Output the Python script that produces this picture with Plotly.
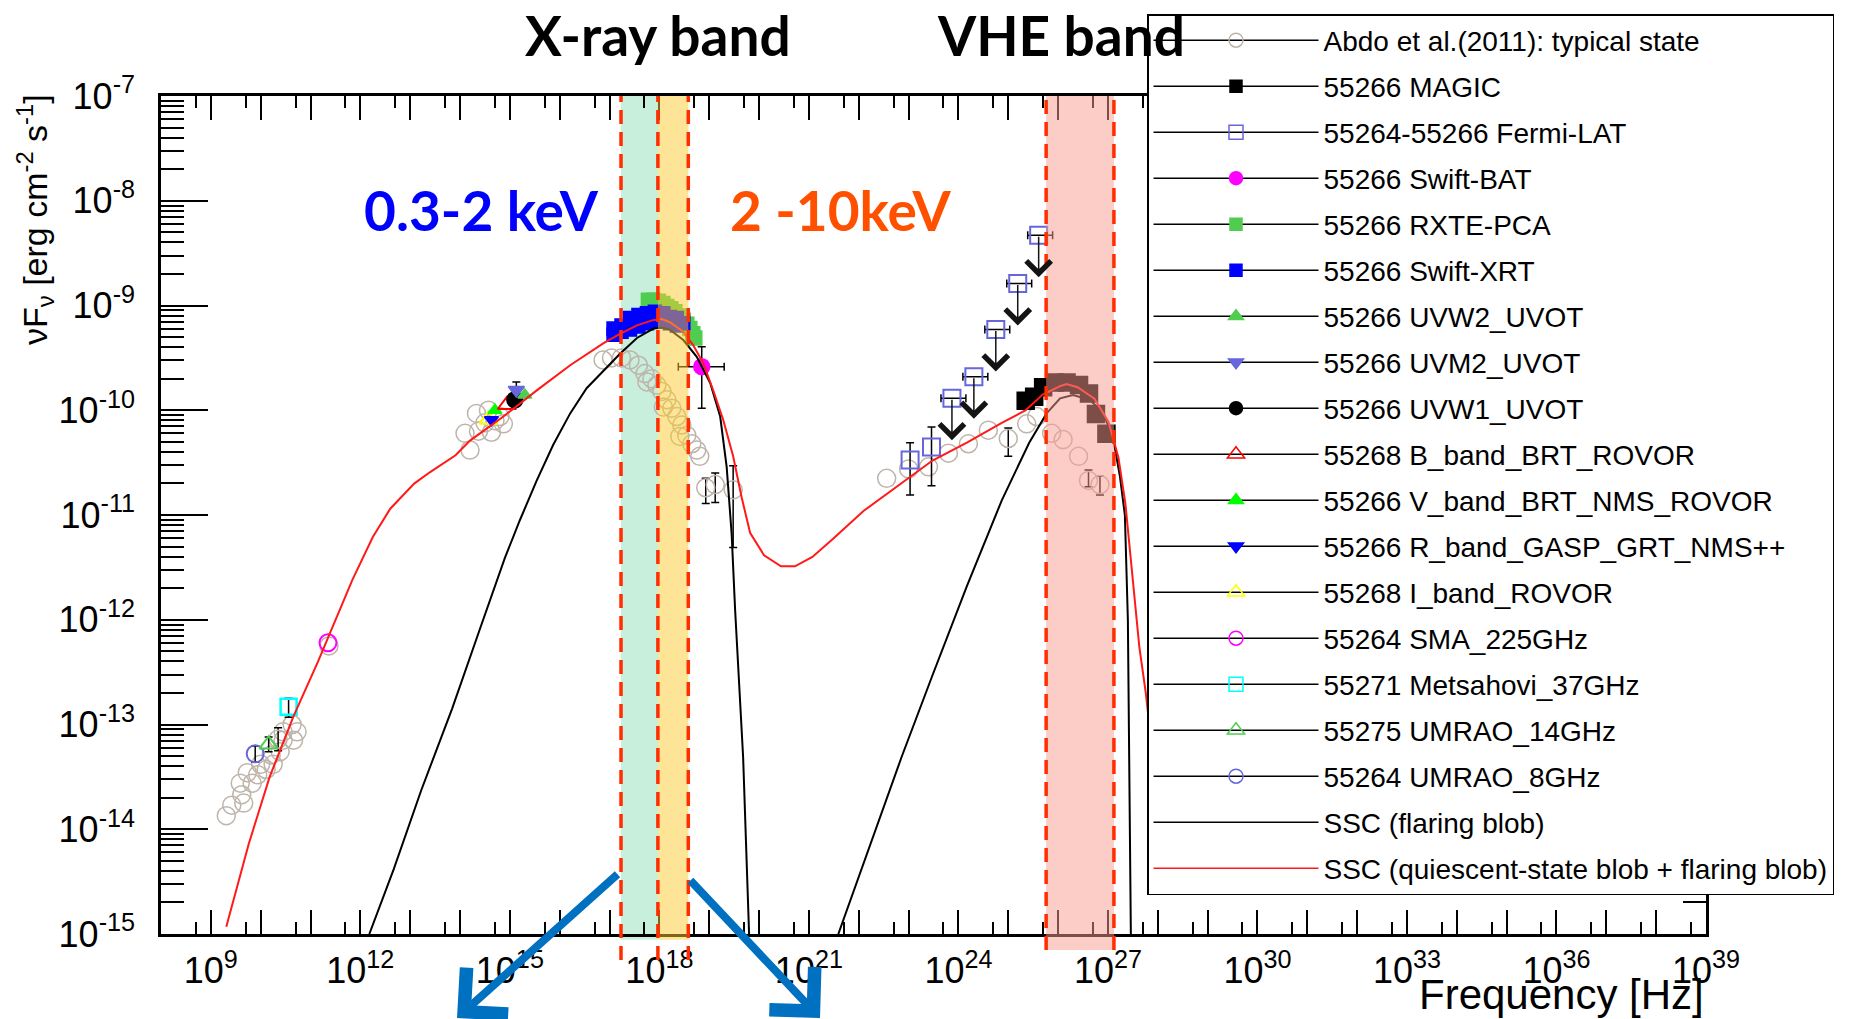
import plotly.graph_objects as go

# ---------------- DATA (log10 nu [Hz], log10 nuFnu [erg cm^-2 s^-1]) ----------------
abdo_lx = [9.31, 9.42, 9.66, 9.62, 9.59, 9.83, 9.94, 9.73, 10.11, 10.25, 10.00, 10.21, 10.39, 10.45,
           10.66, 10.45, 10.63, 10.73, 11.37,
           14.20, 14.10, 14.37, 14.33, 14.57, 14.80, 14.63, 14.87, 14.50, 14.70,
           16.87, 17.04, 17.24, 17.41, 17.58, 17.71, 17.75, 17.85, 17.95, 18.05, 18.08, 18.15,
           18.25, 18.35, 18.41, 18.45, 18.55, 18.65, 18.75, 18.81,
           22.56, 23.00, 23.40, 23.80, 24.20, 24.60, 25.37, 25.57, 25.87, 26.10, 26.41]
abdo_ly = [-13.87, -13.77, -13.75, -13.67, -13.56, -13.56, -13.48, -13.46, -13.43, -13.38, -13.38, -13.29,
           -13.26, -13.15, -13.15, -13.07, -13.00, -13.07, -12.25,
           -10.38, -10.22, -10.20, -10.03, -10.00, -10.06, -10.21, -10.13, -10.12, -10.10,
           -9.52, -9.50, -9.50, -9.52, -9.57, -9.65, -9.73, -9.70, -9.76, -9.82, -9.97, -9.90,
           -9.98, -10.06, -10.25, -10.14, -10.24, -10.32, -10.38, -10.44,
           -10.65, -10.56, -10.54, -10.41, -10.32, -10.19, -10.13, -10.06, -10.22, -10.28, -10.44]
abdo_e_lx = [10.35, 18.93, 19.12, 19.48, 25.00, 26.61, 26.84]
abdo_e_ly = [-13.14, -10.74, -10.71, -10.76, -10.27, -10.67, -10.71]
abdo_e_hi = [-13.03, -10.65, -10.60, -10.53, -10.17, -10.57, -10.63]
abdo_e_lo = [-13.25, -10.89, -10.88, -11.31, -10.44, -10.73, -10.81]

magic_lx = [25.35, 25.52, 25.70, 25.93, 26.17, 26.42, 26.62, 26.76, 26.97]
magic_ly = [-9.91, -9.87, -9.78, -9.735, -9.735, -9.76, -9.84, -10.035, -10.225]

fermi_lx = [23.03, 23.46]
fermi_ly = [-10.475, -10.35]
fermi_hi = [-10.31, -10.16]
fermi_lo = [-10.81, -10.72]
fermi_ul_lx = [23.87, 24.31, 24.75, 25.19, 25.61]
fermi_ul_ly = [-9.886, -9.68, -9.23, -8.79, -8.33]
fermi_ul_xlo = [23.65, 24.09, 24.53, 24.97, 25.39]
fermi_ul_xhi = [24.15, 24.59, 25.03, 25.47, 25.89]

bat_lx = [18.85]
bat_ly = [-9.584]
bat_xlo, bat_xhi = [18.38], [19.30]
bat_ylo, bat_yhi = [-9.982], [-9.393]

rxte_lx = [17.78, 17.88, 17.98, 18.07, 18.15, 18.23, 18.31, 18.40, 18.48, 18.55, 18.61, 18.67, 18.71]
rxte_ly = [-8.95, -8.95, -8.96, -8.98, -9.01, -9.03, -9.06, -9.10, -9.14, -9.18, -9.22, -9.27, -9.31]

xrt_lx = [17.08, 17.08, 17.24, 17.24, 17.41, 17.41, 17.58, 17.58, 17.75, 17.75, 17.91, 17.91,
          18.08, 18.08, 18.21, 18.21, 18.35, 18.35, 18.48]
xrt_ly = [-9.22, -9.28, -9.19, -9.25, -9.12, -9.23, -9.09, -9.20, -9.075, -9.17, -9.06, -9.155,
          -9.075, -9.14, -9.11, -9.17, -9.12, -9.19, -9.17]

uvw2 = (15.30, -9.854)
uvm2 = (15.13, -9.807)
uvm2_err = (-9.73, -9.88)
uvw1 = (15.10, -9.90)
bband = (14.94, -9.95)
vband = (14.70, -10.00)
rband = (14.63, -10.09)
iband = (14.57, -10.09)
sma = (11.35, -12.22)
metsahovi = (10.56, -12.83)
metsahovi_err = (-12.75, -12.93)
umrao14 = (10.16, -13.19)
umrao14_err = (-13.12, -13.26)
umrao8 = (9.89, -13.28)
umrao8_err = (-13.205, -13.36)

ssc_flare_sync_lx = [12.18, 12.67, 13.22, 13.84, 14.39, 14.90, 15.20, 15.54, 15.87, 16.21, 16.54, 16.88, 17.21,
                     17.55, 17.88, 18.05, 18.21, 18.48, 18.75, 19.02, 19.22, 19.35, 19.45, 19.52, 19.60, 19.68, 19.80]
ssc_flare_sync_ly = [-15.0, -14.38, -13.63, -12.85, -12.10, -11.41, -11.05, -10.67, -10.33, -10.03, -9.79, -9.62,
                     -9.46, -9.31, -9.22, -9.21, -9.23, -9.33, -9.49, -9.74, -10.06, -10.54, -11.18, -11.91,
                     -12.6, -13.31, -15.0]
ssc_flare_ic_lx = [21.59, 22.86, 23.48, 24.17, 24.87, 25.42, 25.77, 26.04, 26.30, 26.64, 26.91, 27.11, 27.24,
                   27.34, 27.40, 27.43, 27.46]
ssc_flare_ic_ly = [-15.0, -13.31, -12.53, -11.68, -10.86, -10.31, -10.03, -9.886, -9.854, -9.902, -10.03,
                   -10.28, -10.63, -11.0, -12.0, -13.3, -15.0]
ssc_total_lx = [9.31, 9.76, 10.18, 10.66, 11.15, 11.42, 11.84, 12.25, 12.60, 13.08, 13.40, 13.91, 14.20, 14.87,
                15.54, 16.21, 16.88, 17.21, 17.55, 17.87, 18.05, 18.21, 18.48, 18.68, 18.88, 19.08, 19.28, 19.48,
                19.65, 19.82, 20.10, 20.44, 20.72, 21.07, 21.48, 22.10, 22.79, 23.48, 24.17, 24.87, 25.35, 25.69,
                26.04, 26.17, 26.39, 26.73, 27.01, 27.21, 27.35, 27.49, 27.63, 27.76, 27.90]
ssc_total_ly = [-14.93, -14.14, -13.50, -12.92, -12.40, -12.10, -11.62, -11.21, -10.94, -10.70, -10.59, -10.43,
                -10.29, -10.06, -9.81, -9.57, -9.36, -9.27, -9.19, -9.14, -9.13, -9.16, -9.25, -9.38, -9.55,
                -9.81, -10.09, -10.44, -10.83, -11.17, -11.385, -11.49, -11.49, -11.40, -11.23, -10.96, -10.72,
                -10.48, -10.31, -10.12, -10.00, -9.85, -9.77, -9.75, -9.78, -9.89, -10.11, -10.45, -10.89,
                -11.57, -12.26, -12.70, -13.30]

xray_soft_band = (17.23, 17.97)   # 0.3-2 keV
xray_hard_band = (17.97, 18.58)   # 2-10 keV
vhe_band = (25.76, 27.12)

x_tick_exp = list(range(8, 40))
x_label_exp = list(range(9, 40, 3))
y_tick_exp = list(range(-15, -6))

legend_names = ["Abdo et al.(2011): typical state", "55266 MAGIC", "55264-55266 Fermi-LAT",
                "55266 Swift-BAT", "55266 RXTE-PCA", "55266 Swift-XRT", "55266 UVW2_UVOT",
                "55266 UVM2_UVOT", "55266 UVW1_UVOT", "55268 B_band_BRT_ROVOR",
                "55266 V_band_BRT_NMS_ROVOR", "55266 R_band_GASP_GRT_NMS++", "55268 I_band_ROVOR",
                "55264 SMA_225GHz", "55271 Metsahovi_37GHz", "55275 UMRAO_14GHz", "55264 UMRAO_8GHz",
                "SSC (flaring blob)", "SSC (quiescent-state blob + flaring blob)"]

# ---------------- STYLE ----------------
W, H = 1870, 1019
ML, MR, MT, MB = 161, 164, 96, 85
PW, PH = W - ML - MR, H - MT - MB
def ppx(xp): return (xp - ML) / PW
def ppy(yp): return (H - MB - yp) / PH

GRAY = 'rgb(190,180,170)'
SLATE = 'rgb(102,102,221)'
GREEN = 'rgb(80,205,80)'
AXFONT = 'Liberation Sans'

def L(v): return [10.0 ** a for a in v]

def errs(ly, hi, lo):
    return ([10.0 ** h - 10.0 ** y for y, h in zip(ly, hi)], [10.0 ** y - 10.0 ** l for y, l in zip(ly, lo)])

EB = dict(color='black', thickness=1.5, width=4)

legend_styles = [
    ('circle-open', GRAY, 14), ('square', 'black', 12), ('square-open', SLATE, 14),
    ('circle', 'magenta', 13), ('square', GREEN, 12), ('square', 'blue', 12),
    ('triangle-up', GREEN, 13), ('triangle-down', SLATE, 13), ('circle', 'black', 13),
    ('triangle-up-open', 'red', 15), ('triangle-up', 'rgb(0,255,0)', 13), ('triangle-down', 'blue', 13),
    ('triangle-up-open', 'rgb(255,255,0)', 15), ('circle-open', 'magenta', 14),
    ('square-open', 'cyan', 14), ('triangle-up-open', GREEN, 15), ('circle-open', SLATE, 14),
]

fig = go.Figure()

def pts(lx, ly, symbol, color, size, lw=1.5, **kw):
    fig.add_trace(go.Scatter(x=L(lx), y=L(ly), mode='markers', showlegend=False, hoverinfo='skip',
                             marker=dict(symbol=symbol, color=color, size=size, line=dict(color=color, width=lw)),
                             **kw))

# Abdo typical state
pts(abdo_lx, abdo_ly, 'circle-open', GRAY, 18)
ey, eym = errs(abdo_e_ly, abdo_e_hi, abdo_e_lo)
pts(abdo_e_lx, abdo_e_ly, 'circle-open', GRAY, 18,
    error_y=dict(type='data', symmetric=False, array=ey, arrayminus=eym, **EB))

# radio
ey, eym = errs([umrao8[1]], [umrao8_err[0]], [umrao8_err[1]])
pts([umrao8[0]], [umrao8[1]], 'circle-open', SLATE, 17, lw=2,
    error_y=dict(type='data', symmetric=False, array=ey, arrayminus=eym, **EB))
ey, eym = errs([umrao14[1]], [umrao14_err[0]], [umrao14_err[1]])
pts([umrao14[0]], [umrao14[1]], 'triangle-up-open', GREEN, 16, lw=2,
    error_y=dict(type='data', symmetric=False, array=ey, arrayminus=eym, **EB))
ey, eym = errs([metsahovi[1]], [metsahovi_err[0]], [metsahovi_err[1]])
pts([metsahovi[0]], [metsahovi[1]], 'square-open', 'cyan', 16, lw=2.5,
    error_y=dict(type='data', symmetric=False, array=ey, arrayminus=eym, **EB))
pts([sma[0]], [sma[1]], 'circle-open', 'magenta', 17, lw=2)

# optical / UV
pts([iband[0]], [iband[1]], 'triangle-up-open', 'rgb(255,255,0)', 16, lw=2)
pts([rband[0]], [rband[1]], 'triangle-down', 'blue', 12)
pts([vband[0]], [vband[1]], 'triangle-up', 'rgb(0,255,0)', 12)
pts([bband[0]], [bband[1]], 'triangle-up-open', 'red', 16, lw=2)
pts([uvw1[0]], [uvw1[1]], 'circle', 'black', 16)
ey, eym = errs([uvm2[1]], [uvm2_err[0]], [uvm2_err[1]])
pts([uvm2[0]], [uvm2[1]], 'triangle-down', SLATE, 14,
    error_y=dict(type='data', symmetric=False, array=ey, arrayminus=eym, **EB))
pts([uvw2[0]], [uvw2[1]], 'triangle-up', GREEN, 12)

# X-ray
pts(rxte_lx, rxte_ly, 'square', GREEN, 14)
pts(xrt_lx, xrt_ly, 'square', 'blue', 13)
ey, eym = errs(bat_ly, bat_yhi, bat_ylo)
ex, exm = errs(bat_lx, bat_xhi, bat_xlo)
pts(bat_lx, bat_ly, 'circle', 'magenta', 16,
    error_y=dict(type='data', symmetric=False, array=ey, arrayminus=eym, **EB),
    error_x=dict(type='data', symmetric=False, array=ex, arrayminus=exm, **EB))

# gamma
ey, eym = errs(fermi_ly, fermi_hi, fermi_lo)
pts(fermi_lx, fermi_ly, 'square-open', SLATE, 17, lw=2,
    error_y=dict(type='data', symmetric=False, array=ey, arrayminus=eym, **EB))
ex, exm = errs(fermi_ul_lx, fermi_ul_xhi, fermi_ul_xlo)
pts(fermi_ul_lx, fermi_ul_ly, 'square-open', SLATE, 17, lw=2,
    error_x=dict(type='data', symmetric=False, array=ex, arrayminus=exm, **EB))
pts(magic_lx, magic_ly, 'square', 'black', 17)

# models
fig.add_trace(go.Scatter(x=L(ssc_flare_sync_lx), y=L(ssc_flare_sync_ly), mode='lines', showlegend=False,
                         line=dict(color='black', width=2), hoverinfo='skip'))
fig.add_trace(go.Scatter(x=L(ssc_flare_ic_lx), y=L(ssc_flare_ic_ly), mode='lines', showlegend=False,
                         line=dict(color='black', width=2), hoverinfo='skip'))
fig.add_trace(go.Scatter(x=L(ssc_total_lx), y=L(ssc_total_ly), mode='lines', showlegend=False,
                         line=dict(color='rgb(255,25,25)', width=2), hoverinfo='skip'))

# carrier trace for the secondary (tick-only) x axis
fig.add_trace(go.Scatter(x=[None], y=[None], xaxis='x2', showlegend=False, hoverinfo='skip'))

# legend entries
for i, name in enumerate(legend_names):
    if i < len(legend_styles):
        sym, col, sz = legend_styles[i]
        fig.add_trace(go.Scatter(x=[None], y=[None], mode='lines+markers', name=name, legendgroup=f'g{i}',
                                 line=dict(color='black', width=1.5),
                                 marker=dict(symbol=sym, color=col, size=sz, line=dict(color=col, width=1.5))))
    else:
        col = 'black' if i == len(legend_styles) else 'rgb(255,25,25)'
        fig.add_trace(go.Scatter(x=[None], y=[None], mode='lines', name=name, legendgroup=f'g{i}',
                                 line=dict(color=col, width=1.5)))

# ---------------- shapes: bands & dashed lines ----------------
DASH = dict(color='rgb(255,45,0)', width=3.5, dash='14px,8px')
shapes = [
    dict(type='rect', xref='x', yref='paper', x0=10.0 ** xray_soft_band[0], x1=10.0 ** xray_soft_band[1],
         y0=-0.007, y1=1, fillcolor='rgb(200,238,220)', line=dict(width=0), layer='below'),
    dict(type='rect', xref='x', yref='paper', x0=10.0 ** xray_hard_band[0], x1=10.0 ** xray_hard_band[1],
         y0=-0.007, y1=1, fillcolor='rgba(251,201,45,0.5)', line=dict(width=0), layer='above'),
    dict(type='rect', xref='x', yref='paper', x0=10.0 ** vhe_band[0], x1=10.0 ** vhe_band[1],
         y0=-0.019, y1=1, fillcolor='rgba(249,155,141,0.5)', line=dict(width=0), layer='above'),
]
for e in (xray_soft_band[0], xray_soft_band[1], xray_hard_band[1]):
    shapes.append(dict(type='line', xref='x', yref='paper', x0=10.0 ** e, x1=10.0 ** e, y0=-0.031, y1=1,
                       line=DASH, layer='above'))
for e in vhe_band:
    shapes.append(dict(type='line', xref='x', yref='paper', x0=10.0 ** e, x1=10.0 ** e, y0=-0.019, y1=1,
                       line=DASH, layer='above'))

# ---------------- annotations ----------------
ann = []
for lx, ly in zip(fermi_ul_lx, fermi_ul_ly):
    ann.append(dict(x=lx, y=ly - 0.4, ax=lx, ay=ly, xref='x', yref='y', axref='x', ayref='y', text='',
                    showarrow=True, arrowhead=4, arrowsize=3.2, arrowwidth=1.5, arrowcolor='rgb(20,20,20)',
                    standoff=0, startstandoff=0))

TITLEF = dict(family='Lato', size=55, weight='bold')
ann += [
    dict(text='X-ray band', x=ppx(658), y=ppy(35), xref='paper', yref='paper', showarrow=False,
         font=dict(color='black', **TITLEF), xanchor='center', yanchor='middle'),
    dict(text='VHE band', x=ppx(1061), y=ppy(35), xref='paper', yref='paper', showarrow=False,
         font=dict(color='black', **TITLEF), xanchor='center', yanchor='middle'),
    dict(text='0.3-2 keV', x=ppx(481), y=ppy(210), xref='paper', yref='paper', showarrow=False,
         font=dict(color='rgb(0,0,255)', **TITLEF), xanchor='center', yanchor='middle'),
    dict(text='2 -10keV', x=ppx(841), y=ppy(210), xref='paper', yref='paper', showarrow=False,
         font=dict(color='rgb(255,80,0)', **TITLEF), xanchor='center', yanchor='middle'),
    dict(text='\u03bdF<sub>\u03bd</sub> [erg cm<sup>-2</sup> s<sup>-1</sup>]', x=ppx(35), y=ppy(220),
         xref='paper', yref='paper', showarrow=False, textangle=-90,
         font=dict(family=AXFONT, size=34, color='black'), xanchor='center', yanchor='middle'),
    dict(text='Frequency [Hz]', x=1.0, y=ppy(994), xref='paper', yref='paper', showarrow=False,
         font=dict(family=AXFONT, size=42, color='black'), xanchor='right', yanchor='middle'),
    dict(x=ppx(457), y=ppy(1035), xref='paper', yref='paper', ax=619 - 457, ay=873 - 1035, text='',
         showarrow=True, arrowhead=4, arrowsize=1.5, arrowwidth=8, arrowcolor='rgb(0,112,192)'),
    dict(x=ppx(820), y=ppy(1035), xref='paper', yref='paper', ax=689 - 820, ay=879 - 1035, text='',
         showarrow=True, arrowhead=4, arrowsize=1.5, arrowwidth=8, arrowcolor='rgb(0,112,192)'),
]

tickfont = dict(family=AXFONT, size=36, color='black')
fig.update_layout(
    width=W, height=H,
    margin=dict(l=ML, r=MR, t=MT, b=MB, autoexpand=False),
    paper_bgcolor='white', plot_bgcolor='white',
    shapes=shapes, annotations=ann,
    xaxis=dict(type='log', range=[8, 39], tickmode='array',
               tickvals=[10.0 ** k for k in x_label_exp],
               ticktext=[f'10<sup>{k}</sup>' for k in x_label_exp],
               ticks='inside', ticklen=24, tickwidth=2, tickcolor='black',
               showline=True, linewidth=2.5, linecolor='black', mirror='ticks',
               showgrid=False, zeroline=False, tickfont=tickfont, ticklabelstandoff=3,
               minor=dict(tickmode='array', tickvals=[5.0 * 10.0 ** k for k in x_tick_exp[:-1]],
                          ticks='inside', ticklen=12, tickwidth=2, tickcolor='black', showgrid=False)),
    xaxis2=dict(type='log', range=[8, 39], overlaying='x', side='bottom', tickmode='array',
                tickvals=[10.0 ** k for k in x_tick_exp], showticklabels=False,
                ticks='inside', ticklen=24, tickwidth=2, tickcolor='black',
                showline=True, linewidth=2.5, linecolor='black', mirror='ticks',
                showgrid=False, zeroline=False),
    yaxis=dict(type='log', range=[-15, -7], tickmode='array',
               tickvals=[10.0 ** k for k in y_tick_exp],
               ticktext=[f'10<sup>{k}</sup>' for k in y_tick_exp],
               ticks='inside', ticklen=47, tickwidth=2, tickcolor='black',
               showline=True, linewidth=2.5, linecolor='black', mirror='ticks',
               showgrid=False, zeroline=False, tickfont=tickfont, ticklabelstandoff=16,
               minor=dict(dtick='D1', ticks='inside', ticklen=23, tickwidth=2, tickcolor='black',
                          showgrid=False)),
    legend=dict(x=ppx(1147), y=ppy(14), xanchor='left', yanchor='top', bgcolor='white',
                bordercolor='black', borderwidth=1.5, traceorder='grouped', tracegroupgap=6.6,
                itemwidth=165, maxheight=960, font=dict(family=AXFONT, size=28, color='black')),
    showlegend=True,
)

fig.write_html('out.html')
